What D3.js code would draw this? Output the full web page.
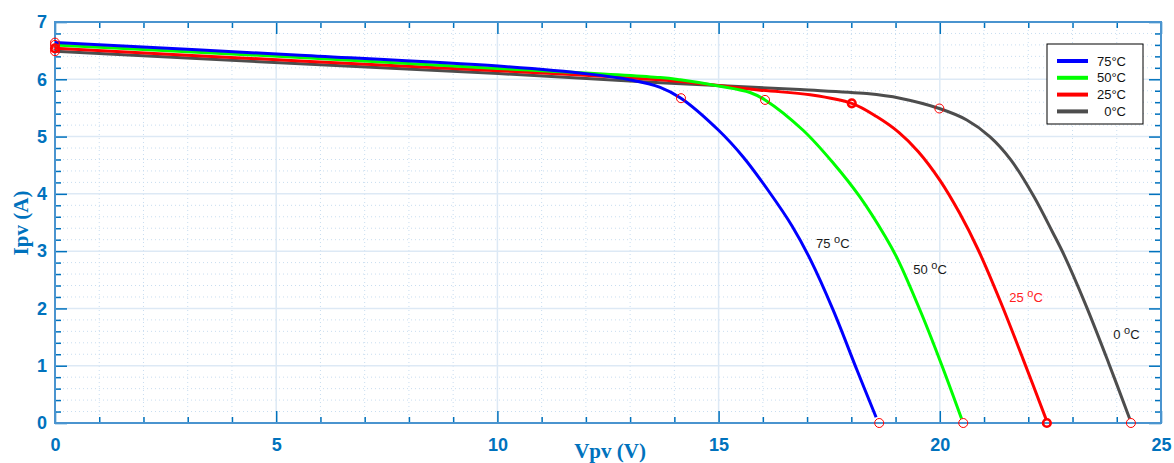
<!DOCTYPE html>
<html>
<head>
<meta charset="utf-8">
<script src="https://cdn.jsdelivr.net/npm/d3@7"></script>
<style>
  body { margin: 0; background: #fff; }
  svg { display: block; }
</style>
</head>
<body>
<div id="chart"></div>
<script>
// I-V curves of a PV module at four temperatures
const labels = ["75°C", "50°C", "25°C", "0°C"];
const curveLabels = ["75 ", "50 ", "25 ", "0 "];

const volt75 = [0, 5.54, 10.02, 12.09, 13.0, 13.68, 14.15, 15.00, 15.56, 16.13, 16.66, 17.07, 17.59, 18.13, 18.56];
const amp75  = [6.64, 6.42, 6.23, 6.09, 5.99, 5.86, 5.67, 5.11, 4.64, 4.05, 3.44, 2.86, 1.97, 0.92, 0.10];

const volt50 = [0, 5.54, 10.02, 13.68, 14.13, 15.03, 15.71, 16.05, 16.91, 17.60, 18.19, 18.77, 19.06, 19.58, 20.03, 20.49];
const amp50  = [6.60, 6.38, 6.19, 6.03, 5.99, 5.88, 5.77, 5.64, 5.11, 4.53, 3.95, 3.25, 2.84, 1.92, 1.04, 0.08];

const volt25 = [0, 5.54, 10.02, 13.68, 15.94, 17.07, 18.01, 18.57, 19.08, 19.51, 20.00, 20.45, 20.87, 21.37, 21.88, 22.41];
const amp25  = [6.54, 6.32, 6.15, 5.99, 5.81, 5.73, 5.58, 5.35, 5.07, 4.74, 4.24, 3.66, 3.02, 2.12, 1.12, 0.05];

const volt0 = [0, 5.54, 10.02, 13.68, 16.84, 18.35, 19.1, 19.99, 20.61, 21.13, 21.61, 22.13, 22.55, 22.81, 23.31, 23.82, 24.29];
const amp0  = [6.49, 6.27, 6.10, 5.94, 5.82, 5.75, 5.67, 5.49, 5.29, 5.00, 4.59, 3.95, 3.33, 2.93, 2.04, 1.04, 0.08];

// marked points: short circuit, max power, open circuit
const iscValues = [6.64, 6.60, 6.54, 6.49];
const mppVolt = [14.15, 16.05, 18.01, 19.99];
const mppAmp  = [5.67, 5.64, 5.58, 5.49];
const vocValues = [18.63, 20.53, 22.42, 24.32];

// where the "xx °C" notes sit (in data units)
const noteVolt = [17.2, 19.4, 21.57, 23.92];
const noteAmp  = [3.05, 2.6, 2.12, 1.46];

const xTicks = [0, 5, 10, 15, 20, 25];
const yTicks = [0, 1, 2, 3, 4, 5, 6, 7];

const colors = ["#0000ff", "#00ff00", "#ff0000", "#4d4d4d"];
const noteColors = ["#1a1a1a", "#1a1a1a", "#ff2020", "#1a1a1a"];
const axisBlue = "#0072bd";

const width = 1174, height = 463;
const margin = { top: 22, right: 13, bottom: 40, left: 55 };

const series = [
  { v: volt75, i: amp75 },
  { v: volt50, i: amp50 },
  { v: volt25, i: amp25 },
  { v: volt0, i: amp0 }
].map((s, k) => ({
  label: labels[k],
  color: colors[k],
  points: s.v.map((v, j) => [v, s.i[j]])
}));

const svg = d3.select("#chart").append("svg")
  .attr("width", width)
  .attr("height", height);

const x = d3.scaleLinear().domain([0, 25]).range([margin.left, width - margin.right]);
const y = d3.scaleLinear().domain([0, 7]).range([height - margin.bottom, margin.top]);

const x0 = x.range()[0], x1 = x.range()[1];
const y0 = y.range()[0], y1 = y.range()[1];

// ---- grid ----
const grid = svg.append("g");
const minorX = d3.range(1, 25).filter(d => d % 5 !== 0);
const minorY = d3.range(1, 35).map(d => d / 5).filter(d => Math.abs(d - Math.round(d)) > 1e-6);

grid.selectAll("line.mx").data(minorX).join("line")
  .attr("x1", d => x(d)).attr("x2", d => x(d))
  .attr("y1", y1).attr("y2", y0)
  .attr("stroke", "#c8ddf0").attr("stroke-width", 1)
  .attr("stroke-dasharray", "1,3");

grid.selectAll("line.my").data(minorY).join("line")
  .attr("x1", x0).attr("x2", x1)
  .attr("y1", d => y(d)).attr("y2", d => y(d))
  .attr("stroke", "#c8ddf0").attr("stroke-width", 1)
  .attr("stroke-dasharray", "1,3");

grid.selectAll("line.gx").data(xTicks.slice(1, -1)).join("line")
  .attr("x1", d => x(d)).attr("x2", d => x(d))
  .attr("y1", y1).attr("y2", y0)
  .attr("stroke", "#dde9f5").attr("stroke-width", 1.5);

grid.selectAll("line.gy").data(yTicks.slice(1, -1)).join("line")
  .attr("x1", x0).attr("x2", x1)
  .attr("y1", d => y(d)).attr("y2", d => y(d))
  .attr("stroke", "#dde9f5").attr("stroke-width", 1.5);

// ---- axes (ticks inward on all four sides) ----
function styleAxis(g) {
  g.select(".domain").remove();
  g.selectAll(".tick line").attr("stroke", axisBlue).attr("stroke-width", 1.5);
  g.selectAll(".tick text")
    .attr("fill", axisBlue)
    .style("font", "bold 18px Arial, 'Liberation Sans', sans-serif");
}

svg.append("g").attr("transform", `translate(0,${y0})`)
  .call(d3.axisBottom(x).tickValues(minorX).tickSize(-6).tickFormat(""))
  .call(styleAxis);
svg.append("g").attr("transform", `translate(0,${y0})`)
  .call(d3.axisBottom(x).tickValues(xTicks).tickSize(-12).tickSizeOuter(0).tickPadding(15).tickFormat(d3.format("d")))
  .call(styleAxis);

svg.append("g").attr("transform", `translate(0,${y1})`)
  .call(d3.axisTop(x).tickValues(minorX).tickSize(-6).tickFormat(""))
  .call(styleAxis);
svg.append("g").attr("transform", `translate(0,${y1})`)
  .call(d3.axisTop(x).tickValues(xTicks).tickSize(-12).tickFormat(""))
  .call(styleAxis);

svg.append("g").attr("transform", `translate(${x0},0)`)
  .call(d3.axisLeft(y).tickValues(minorY).tickSize(-6).tickFormat(""))
  .call(styleAxis);
svg.append("g").attr("transform", `translate(${x0},0)`)
  .call(d3.axisLeft(y).tickValues(yTicks).tickSize(-12).tickPadding(8).tickFormat(d3.format("d")))
  .call(styleAxis);

svg.append("g").attr("transform", `translate(${x1},0)`)
  .call(d3.axisRight(y).tickValues(minorY).tickSize(-6).tickFormat(""))
  .call(styleAxis);
svg.append("g").attr("transform", `translate(${x1},0)`)
  .call(d3.axisRight(y).tickValues(yTicks).tickSize(-12).tickFormat(""))
  .call(styleAxis);

// frame
svg.append("rect")
  .attr("x", x0).attr("y", y1)
  .attr("width", x1 - x0).attr("height", y0 - y1)
  .attr("fill", "none")
  .attr("stroke", "#4a94cf").attr("stroke-width", 2);

// ---- curves ----
svg.append("clipPath").attr("id", "plot-clip")
  .append("rect").attr("x", x0).attr("y", y1).attr("width", x1 - x0).attr("height", y0 - y1);

const line = d3.line()
  .x(d => x(d[0]))
  .y(d => y(d[1]))
  .curve(d3.curveCatmullRom.alpha(0.5));

const curves = svg.append("g").attr("clip-path", "url(#plot-clip)");
// draw back to front so blue ends up on top like the original
series.slice().reverse().forEach(s => {
  curves.append("path")
    .attr("d", line(s.points))
    .attr("fill", "none")
    .attr("stroke", s.color)
    .attr("stroke-width", 3)
    .attr("stroke-linejoin", "round");
});

// ---- red circle markers ----
const markers = [];
labels.forEach((lab, k) => {
  const w = k === 2 ? 2.6 : 1;
  markers.push({ v: 0, i: iscValues[k], w });
  markers.push({ v: mppVolt[k], i: mppAmp[k], w });
  markers.push({ v: vocValues[k], i: 0, w });
});

svg.append("g").selectAll("circle").data(markers).join("circle")
  .attr("cx", d => x(d.v))
  .attr("cy", d => y(d.i))
  .attr("r", d => d.w > 1 ? 3.8 : 4.5)
  .attr("fill", "none")
  .attr("stroke", "#ff0000")
  .attr("stroke-width", d => d.w);

// ---- temperature notes on curves ----
const notes = svg.append("g")
  .style("font", "13px Arial, 'Liberation Sans', sans-serif");
curveLabels.forEach((t, k) => {
  const txt = notes.append("text")
    .attr("x", x(noteVolt[k]))
    .attr("y", y(noteAmp[k]))
    .attr("fill", noteColors[k]);
  txt.append("tspan").text(t);
  txt.append("tspan").attr("dy", -5).style("font-size", "11px").text("o");
  txt.append("tspan").attr("dy", 5).text("C");
});

// ---- legend ----
const legend = svg.append("g").attr("transform", "translate(1047,44)");
legend.append("rect")
  .attr("width", 96).attr("height", 80)
  .attr("fill", "#fff")
  .attr("stroke", "#000").attr("stroke-width", 1);

labels.forEach((lab, k) => {
  const ly = 17 + k * 16.8;
  legend.append("line")
    .attr("x1", 10).attr("x2", 41)
    .attr("y1", ly).attr("y2", ly)
    .attr("stroke", colors[k])
    .attr("stroke-width", 4);
  legend.append("text")
    .attr("x", 79).attr("y", ly + 4.5)
    .attr("text-anchor", "end")
    .attr("fill", "#111")
    .style("font", "13px Arial, 'Liberation Sans', sans-serif")
    .text(lab);
});

// ---- axis titles ----
svg.append("text")
  .attr("x", 610).attr("y", 458)
  .attr("text-anchor", "middle")
  .attr("fill", axisBlue)
  .style("font", "bold 21px 'Liberation Serif', 'Times New Roman', serif")
  .text("Vpv (V)");

svg.append("text")
  .attr("transform", "translate(28,223) rotate(-90)")
  .attr("text-anchor", "middle")
  .attr("fill", axisBlue)
  .style("font", "bold 21px 'Liberation Serif', 'Times New Roman', serif")
  .text("Ipv (A)");
</script>
</body>
</html>
